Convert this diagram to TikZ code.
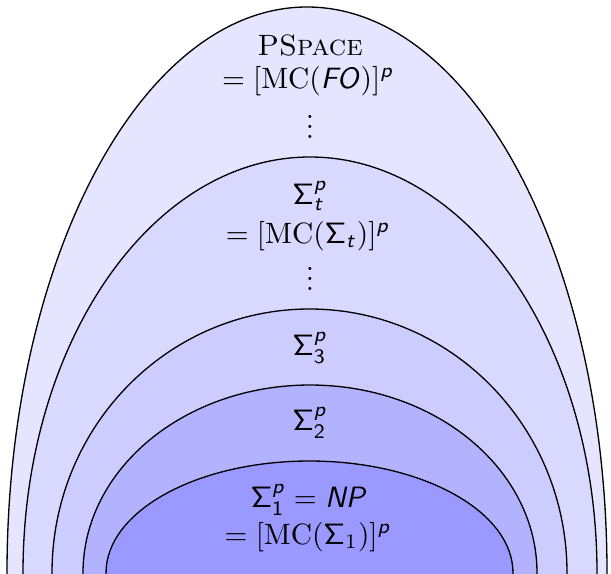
\documentclass[tikz,border=0pt]{standalone}
\DeclareMathAlphabet{\mathsfup}{OT1}{cmss}{m}{n}
\DeclareMathAlphabet{\mathsfit}{OT1}{cmss}{m}{sl}
\newcommand{\sfeq}{\mathrel{\textsf{=}}}
\newcommand{\Sg}{\mathsfup{\Sigma}}
\newcommand{\vdts}{\vbox{\baselineskip3.4pt\lineskiplimit0pt\hbox{.}\hbox{.}\hbox{.}}}
\begin{document}
\begin{tikzpicture}[x=0.34pt,y=-0.34pt,
  ring/.style={draw=black, line width=0.45pt},
  lbl/.style={inner sep=0pt, anchor=center}]
\useasboundingbox (0,0) rectangle (611,573);
\begin{scope}
  \clip (0,0) rectangle (611,573);
  \filldraw[ring, fill=blue!10] (307,573) ellipse [x radius=300, y radius=566];
  \filldraw[ring, fill=blue!15] (310,573) ellipse [x radius=287, y radius=416];
  \filldraw[ring, fill=blue!20] (309.5,573) ellipse [x radius=257.5, y radius=264];
  \filldraw[ring, fill=blue!30] (310,573) ellipse [x radius=227, y radius=188];
  \filldraw[ring, fill=blue!40] (309.5,573) ellipse [x radius=203.5, y radius=112];
\end{scope}
\node[lbl] (pspace) at (310,45) {\textsc{PSpace}};
\node[lbl] (pspaceeq) at (308,81) {$\sfeq [\mathrm{MC}(\mathsfit{FO})]^{\mathsfit{p}}$};
\node[lbl] (dotsa) at (310,127) {\vdts};
\node[lbl] (sigt) at (310,196) {$\Sg^{\mathsfit{p}}_{\mathsfit{t}}$};
\node[lbl] (sigteq) at (308,236) {$\sfeq [\mathrm{MC}(\Sg_{\mathsfit{t}})]^{\mathsfit{p}}$};
\node[lbl] (dotsb) at (310,279) {\vdts};
\node[lbl] (sig3) at (310,348) {$\Sg^{\mathsfit{p}}_{\mathsfup{3}}$};
\node[lbl] (sig2) at (310,423) {$\Sg^{\mathsfit{p}}_{\mathsfup{2}}$};
\node[lbl] (sig1) at (309,500) {$\Sg^{\mathsfit{p}}_{\mathsfup{1}} \sfeq \mathsfit{NP}$};
\node[lbl] (sig1eq) at (308,537) {$\sfeq [\mathrm{MC}(\Sg_{1})]^{\mathsfit{p}}$};
\end{tikzpicture}
\end{document}
